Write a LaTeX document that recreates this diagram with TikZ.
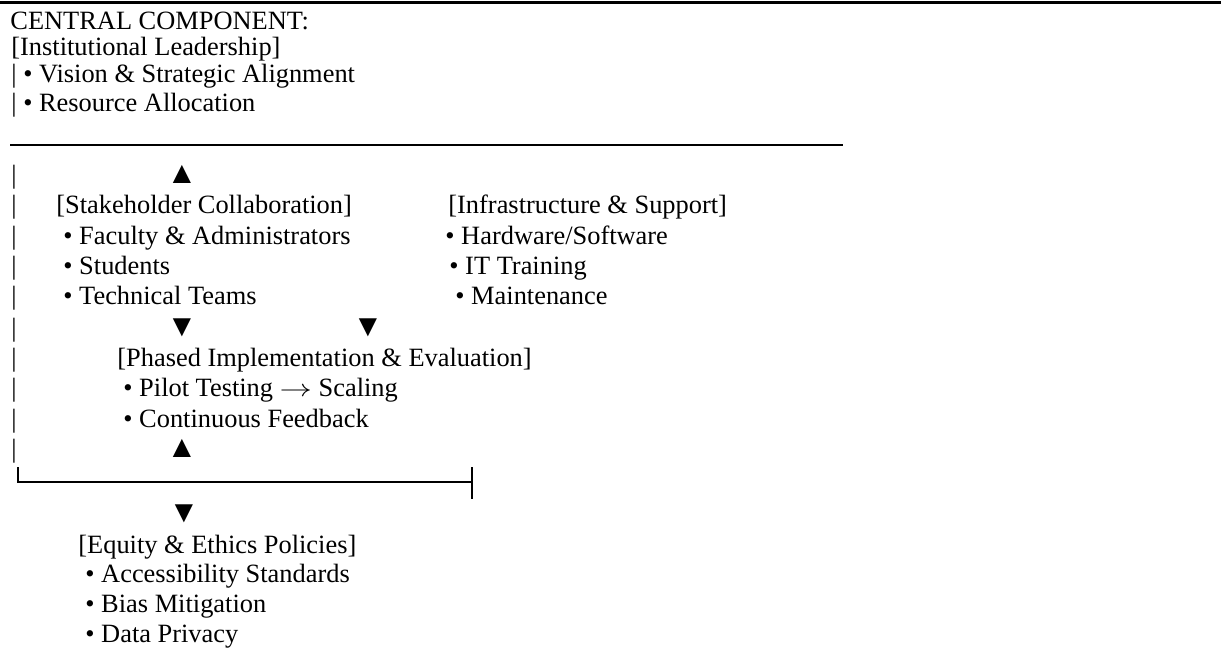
\documentclass[tikz,border=0pt]{standalone}
\usepackage{graphicx}
\usepackage{fontspec}
\setmainfont{Liberation Serif}
\begin{document}
\begin{tikzpicture}[x=0.5pt,y=-0.5pt,
  txt/.style={inner sep=0pt, anchor=base west, font=\fontsize{13.2}{15}\selectfont},
  tri/.style={inner sep=0pt, anchor=base, font=\fontsize{15.5}{17}\selectfont},
  rulethick/.style={line width=1.8pt},
  rulethin/.style={line width=1pt}]
\useasboundingbox (0,0) rectangle (1221,648);
% top rule
\coordinate (tl) at (0,2.5);
\coordinate (tr) at (1221,2.5);
\draw[rulethick] (tl) -- (tr);
% central component
\node[txt] (c1) at (10,29) {CENTRAL COMPONENT:};
\node[txt] (c2) at (11,55) {[Institutional Leadership]};
\node[txt] (c3) at (11,83) {| • Vision \& Strategic Alignment};
\node[txt] (c4) at (11,111) {| • Resource Allocation};
\coordinate (hl) at (10,145);
\coordinate (hr) at (843,145);
\draw[rulethin] (hl) -- (hr);
% left bars
\foreach \yy [count=\i] in {183,213,244,274,304,336,366,396,427,457}
  \node[txt] (bar\i) at (11,\yy) {|};
% stakeholder
\node[tri] (up1) at (182,183) {▲};
\node[txt] (s1) at (56,213) {[Stakeholder Collaboration]};
\node[txt] (s2) at (63,244) {• Faculty \& Administrators};
\node[txt] (s3) at (63,274) {• Students};
\node[txt] (s4) at (63,304) {• Technical Teams};
% infrastructure
\node[txt] (i1) at (448,213) {[Infrastructure \& Support]};
\node[txt] (i2) at (445,244) {• Hardware/Software};
\node[txt] (i3) at (449,274) {• IT Training};
\node[txt] (i4) at (455,304) {• Maintenance};
% arrows down
\node[tri] (dn1) at (182,336) {▼};
\node[tri] (dn2) at (368,336) {▼};
% phased
\node[txt] (p1) at (117,366) {[Phased Implementation \& Evaluation]};
\node[txt] (p2) at (123,396) {• Pilot Testing \scalebox{1.35}[1]{\ensuremath{\rightarrow}} Scaling};
\node[txt] (p3) at (123,427) {• Continuous Feedback};
\node[tri] (up2) at (182,457) {▲};
% bracket
\coordinate (b1) at (18,467);
\coordinate (b2) at (18,482);
\coordinate (b3) at (472,482);
\coordinate (b4) at (472,467);
\coordinate (b5) at (472,499);
\draw[rulethin] (b1) -- (b2) -- (b3);
\draw[rulethin] (b4) -- (b5);
% equity
\node[tri] (dn3) at (184,522) {▼};
\node[txt] (e1) at (78,553) {[Equity \& Ethics Policies]};
\node[txt] (e2) at (85,582) {• Accessibility Standards};
\node[txt] (e3) at (85,612) {• Bias Mitigation};
\node[txt] (e4) at (85,642) {• Data Privacy};
\end{tikzpicture}
\end{document}
